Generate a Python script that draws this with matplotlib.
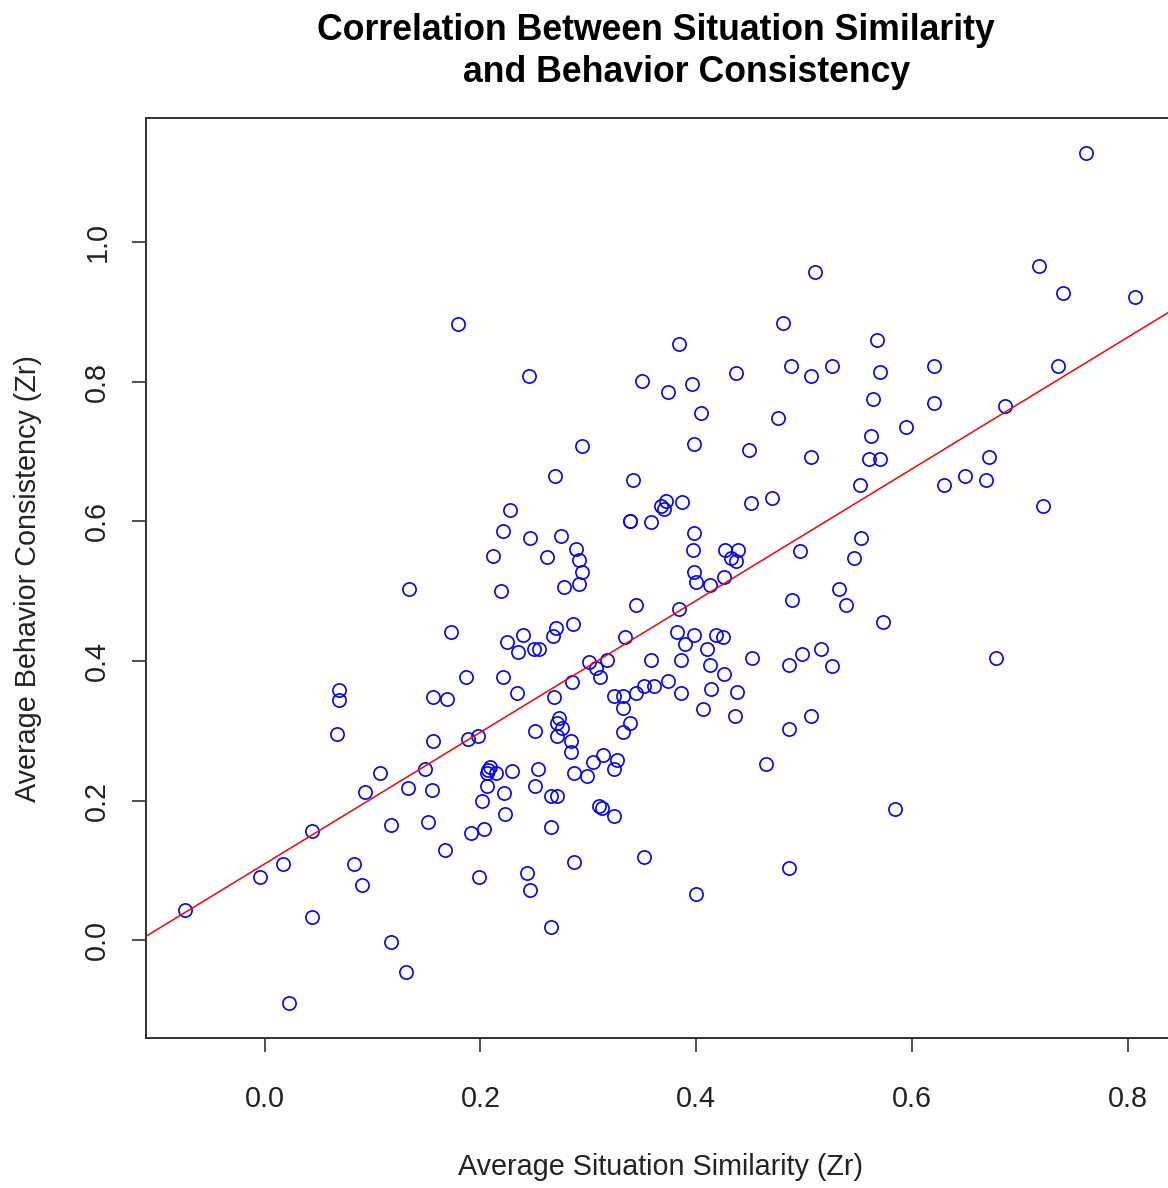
import numpy as np
import matplotlib
matplotlib.use("Agg")
from matplotlib import pyplot as plt

plt.rcParams['font.family'] = ['Liberation Sans', 'DejaVu Sans']

# average situation similarity (Zr)
sim = [0.761, 0.718, 0.510, 0.740, 0.807, 0.179, 0.480, 0.384, 0.568, 0.245,
       0.488, 0.526, 0.620, 0.735, 0.506, 0.437, 0.570, 0.350, 0.396, 0.374,
       0.564, 0.620, 0.686, 0.404, 0.476, 0.594, 0.562, 0.398, 0.294, 0.449,
       0.560, 0.570, 0.506, 0.671, 0.269, 0.341, 0.649, 0.669, 0.630, 0.552,
       0.470, 0.451, 0.387, 0.372, 0.367, 0.370, 0.721, 0.227, 0.339, 0.339,
       0.358, 0.221, 0.246, 0.275, 0.398, 0.553, 0.289, 0.262, 0.212, 0.397,
       0.427, 0.439, 0.432, 0.437, 0.496, 0.546, 0.291, 0.294, 0.398, 0.400,
       0.291, 0.413, 0.426, 0.277, 0.134, 0.219, 0.532, 0.489, 0.344, 0.539,
       0.384, 0.573, 0.286, 0.270, 0.173, 0.267, 0.382, 0.398, 0.418, 0.425,
       0.334, 0.390, 0.239, 0.225, 0.235, 0.250, 0.254, 0.410, 0.516, 0.187,
       0.221, 0.452, 0.498, 0.678, 0.358, 0.386, 0.301, 0.317, 0.307, 0.311,
       0.526, 0.486, 0.413, 0.426, 0.285, 0.069, 0.069, 0.156, 0.169, 0.234,
       0.268, 0.324, 0.332, 0.344, 0.352, 0.361, 0.374, 0.386, 0.414, 0.438,
       0.332, 0.406, 0.339, 0.273, 0.271, 0.276, 0.271, 0.436, 0.506, 0.067,
       0.251, 0.332, 0.486, 0.188, 0.198, 0.156, 0.284, 0.284, 0.304, 0.314,
       0.327, 0.324, 0.465, 0.149, 0.207, 0.209, 0.214, 0.206, 0.229, 0.253,
       0.107, 0.287, 0.299, 0.206, 0.155, 0.093, 0.222, 0.251, 0.265, 0.271,
       0.201, 0.133, 0.310, 0.313, 0.324, 0.584, 0.223, 0.151, 0.117, 0.044,
       0.191, 0.203, 0.265, 0.167, 0.352, 0.287, 0.083, 0.017, 0.486, 0.199,
       -0.004, 0.090, 0.243, 0.246, 0.400, -0.074, 0.044, 0.265, 0.117, 0.131,
       0.023]

# average behavior consistency (Zr)
cons = [1.128, 0.966, 0.958, 0.928, 0.921, 0.883, 0.885, 0.854, 0.860, 0.808,
        0.822, 0.822, 0.822, 0.822, 0.808, 0.812, 0.814, 0.801, 0.797, 0.785,
        0.775, 0.769, 0.766, 0.756, 0.748, 0.735, 0.723, 0.711, 0.708, 0.702,
        0.689, 0.689, 0.692, 0.692, 0.665, 0.660, 0.665, 0.659, 0.652, 0.652,
        0.633, 0.627, 0.628, 0.629, 0.622, 0.618, 0.622, 0.616, 0.600, 0.600,
        0.599, 0.587, 0.577, 0.579, 0.583, 0.577, 0.560, 0.549, 0.551, 0.559,
        0.559, 0.559, 0.547, 0.544, 0.557, 0.547, 0.545, 0.527, 0.527, 0.513,
        0.510, 0.509, 0.520, 0.506, 0.503, 0.500, 0.503, 0.487, 0.481, 0.481,
        0.474, 0.456, 0.453, 0.447, 0.441, 0.436, 0.441, 0.437, 0.437, 0.434,
        0.434, 0.425, 0.438, 0.428, 0.413, 0.417, 0.417, 0.417, 0.417, 0.377,
        0.377, 0.404, 0.410, 0.404, 0.401, 0.401, 0.399, 0.401, 0.390, 0.377,
        0.393, 0.395, 0.395, 0.382, 0.370, 0.358, 0.344, 0.348, 0.345, 0.354,
        0.348, 0.350, 0.350, 0.354, 0.364, 0.364, 0.372, 0.354, 0.360, 0.355,
        0.333, 0.332, 0.311, 0.318, 0.311, 0.304, 0.292, 0.321, 0.322, 0.295,
        0.300, 0.298, 0.302, 0.289, 0.292, 0.285, 0.285, 0.270, 0.255, 0.265,
        0.258, 0.246, 0.252, 0.246, 0.244, 0.248, 0.239, 0.239, 0.242, 0.246,
        0.239, 0.239, 0.236, 0.221, 0.215, 0.212, 0.211, 0.221, 0.206, 0.206,
        0.199, 0.218, 0.192, 0.189, 0.178, 0.188, 0.181, 0.170, 0.165, 0.156,
        0.153, 0.159, 0.162, 0.130, 0.119, 0.112, 0.109, 0.109, 0.103, 0.090,
        0.090, 0.079, 0.096, 0.072, 0.066, 0.043, 0.034, 0.019, -0.003, -0.046,
        -0.090]

xticks = [0.0, 0.2, 0.4, 0.6, 0.8]
yticks = [0.0, 0.2, 0.4, 0.6, 0.8, 1.0]

W, H = 1168, 1188
fig = plt.figure(figsize=(W / 100, H / 100), dpi=100)
ax = fig.add_axes([146 / W, 1 - 1038 / H, 1026 / W, 920 / H])

x = np.array(sim)
y = np.array(cons)
ax.plot(x, y, 'o', mfc='none', mec='#0000ff', ms=9.5, mew=1.2, ls='none')

# least squares line, like abline(lm(y ~ x))
slope, icpt = np.polyfit(x, y, 1)
ax.axline((0, icpt), slope=slope, color='red', lw=1.1)

ax.set_xlim(-0.110, 0.841)
ax.set_ylim(-0.140, 1.178)
ax.set_xticks(xticks)
ax.set_xticklabels(['%.1f' % v for v in xticks])
ax.set_yticks(yticks)
ax.set_yticklabels(['%.1f' % v for v in yticks], rotation=90, va='center')
ax.tick_params(direction='out', length=10, width=1.2, labelsize=20.7,
               color='#333333', labelcolor='#222222')
ax.tick_params(axis='x', pad=24)
ax.tick_params(axis='y', pad=15)
for s in ax.spines.values():
    s.set_linewidth(1.4)
    s.set_color('#333333')

ax.set_xlabel('Average Situation Similarity (Zr)', fontsize=20.7,
              color='#222222', va='center', ha='center')
ax.xaxis.set_label_coords((660 - 146) / 1026, (1038 - 1167) / 920)
ax.set_ylabel('Average Behavior Consistency (Zr)', fontsize=20.7,
              color='#222222', va='center', ha='center')
ax.yaxis.set_label_coords((28 - 146) / 1026, (1038 - 579) / 920)

fig.text(655.5 / W, 1 - 30 / H, 'Correlation Between Situation Similarity',
         ha='center', va='center', fontsize=25.7, fontweight='bold')
fig.text(687 / W, 1 - 72 / H, 'and Behavior Consistency',
         ha='center', va='center', fontsize=25.7, fontweight='bold')

fig.savefig('out.png', dpi=100)
